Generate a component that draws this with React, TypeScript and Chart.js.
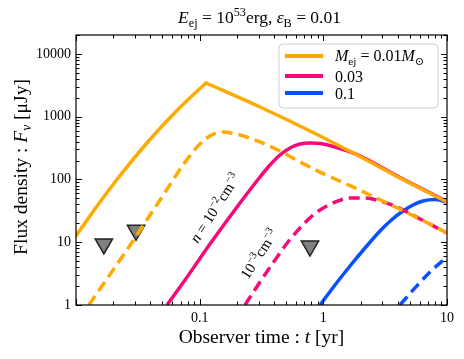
import React, { useEffect, useRef } from 'react';
import { Chart, registerables } from 'chart.js';

Chart.register(...registerables);

const SERIF = '"Liberation Serif", "Times New Roman", "DejaVu Serif", "DejaVu Sans", serif';

const ORANGE = '#FFAA00';
const PINK = '#F50A78';
const BLUE = '#0A50FF';

// Observer time t [yr] and flux density F [uJy]
// M_ej = 0.01 Msun, n = 1e-2 cm^-3
const orangeSolidT = [0.01, 0.01413, 0.01995, 0.02818, 0.03981, 0.05623, 0.07943, 0.1125, 0.3075, 0.7516, 1.872, 4.168, 10];
const orangeSolidF = [12.6, 33.3, 83.2, 196, 437, 920, 1828, 3441, 1427, 614, 245, 105.5, 43.7];
// M_ej = 0.01 Msun, n = 1e-3 cm^-3
const orangeDashT = [0.0127, 0.0227, 0.0311, 0.0478, 0.0867, 0.1146, 0.1516, 0.212, 0.3075, 0.4462, 0.6475, 0.9397, 1.737, 3.272, 6.047, 10];
const orangeDashF = [1, 5.21, 13.0, 47.1, 264, 458, 570, 511, 395, 284, 190, 131, 75.9, 42.2, 23.5, 14.0];
// M_ej = 0.03 Msun, n = 1e-2
const pinkSolidT = [0.0544, 0.0761, 0.1212, 0.212, 0.3075, 0.3704, 0.4462, 0.5375, 0.6475, 0.78, 0.9397, 1.243, 1.872, 4.168, 10];
const pinkSolidF = [1, 2.5, 9.37, 42.2, 109.4, 170, 245, 317, 367, 381, 374, 329, 248, 107, 44.3];
// M_ej = 0.03 Msun, n = 1e-3
const pinkDashT = [0.2326, 0.3075, 0.4066, 0.5178, 0.6475, 0.8096, 1.031, 1.314, 1.643, 2.173, 2.872, 3.941, 6.047, 10];
const pinkDashF = [1, 2.325, 5.21, 10.09, 16.85, 26.2, 36.4, 45.4, 50.7, 50.7, 45.4, 36.4, 23.5, 14.0];
// M_ej = 0.1 Msun, n = 1e-2
const blueSolidT = [0.9397, 1.243, 1.643, 2.173, 2.872, 3.592, 4.409, 5.309, 6.394, 7.996, 10];
const blueSolidF = [1, 2.083, 4.181, 8.09, 15.1, 23.0, 31.4, 39.2, 45.4, 47.9, 43.7];
// M_ej = 0.1 Msun, n = 1e-3
const blueDashT = [4.168, 5.51, 7.289, 10];
const blueDashF = [1, 1.87, 3.36, 5.82];
// upper limits
const limitT = [0.0168, 0.0306, 0.78];
const limitF = [9.4, 15.5, 8.7];

const xTickValues = [0.1, 1, 10];
const xTickLabels = ['0.1', '1', '10'];
const yTickValues = [1, 10, 100, 1000, 10000];
const yTickLabels = ['1', '10', '100', '1000', '10000'];

const legendLabels = ['0.01', '0.03', '0.1'];
const annotN2 = { t: 0.133, f: 35.1 };
const annotN3 = { t: 0.302, f: 6.5 };

type Seg = { t: string; it?: boolean; s?: 'sub' | 'sup' };

const fontOf = (s: Seg, size: number) =>
  `${s.it ? 'italic ' : ''}${s.s ? size * 0.7 : size}px ${SERIF}`;

function drawRich(ctx: CanvasRenderingContext2D, segs: Seg[], x: number, y: number, size: number, align: 'left' | 'center') {
  const widths = segs.map((s) => {
    ctx.font = fontOf(s, size);
    return ctx.measureText(s.t).width;
  });
  const total = widths.reduce((a, b) => a + b, 0);
  let cx = align === 'center' ? x - total / 2 : x;
  ctx.textBaseline = 'alphabetic';
  ctx.textAlign = 'left';
  segs.forEach((s, i) => {
    ctx.font = fontOf(s, size);
    const dy = s.s === 'sub' ? size * 0.22 : s.s === 'sup' ? -size * 0.4 : 0;
    ctx.fillText(s.t, cx, y + dy);
    cx += widths[i];
  });
}

const pts = (t: number[], f: number[]) => t.map((v, i) => ({ x: v, y: f[i] }));

const decor = {
  id: 'decor',
  afterDraw(chart: any) {
    const ctx: CanvasRenderingContext2D = chart.ctx;
    const { left, right, top, bottom } = chart.chartArea;
    const xs = chart.scales.x;
    const ys = chart.scales.y;
    ctx.save();
    ctx.fillStyle = '#000';
    ctx.strokeStyle = '#000';

    // frame
    ctx.lineWidth = 1.2;
    ctx.strokeRect(left, top, right - left, bottom - top);

    // inward ticks on all sides
    ctx.lineWidth = 1;
    const seg = (x1: number, y1: number, x2: number, y2: number) => {
      ctx.beginPath();
      ctx.moveTo(x1, y1);
      ctx.lineTo(x2, y2);
      ctx.stroke();
    };
    for (let d = -2; d <= 1; d++) {
      for (let k = 1; k <= 9; k++) {
        const v = k * Math.pow(10, d);
        if (v < xs.min * 0.9999 || v > xs.max * 1.0001) continue;
        const px = Math.round(xs.getPixelForValue(v)) + 0.5;
        const len = k === 1 ? 6 : 3.5;
        seg(px, bottom, px, bottom - len);
        seg(px, top, px, top + len);
      }
    }
    for (let d = 0; d <= 4; d++) {
      for (let k = 1; k <= 9; k++) {
        const v = k * Math.pow(10, d);
        if (v < ys.min * 0.9999 || v > ys.max * 1.0001) continue;
        const py = Math.round(ys.getPixelForValue(v)) + 0.5;
        const len = k === 1 ? 6 : 3.5;
        seg(left, py, left + len, py);
        seg(right, py, right - len, py);
      }
    }

    // title
    const cxMid = (left + right) / 2;
    drawRich(ctx, [
      { t: 'E', it: true }, { t: 'ej', s: 'sub' }, { t: ' = 10' }, { t: '53', s: 'sup' },
      { t: 'erg, ' }, { t: 'ε', it: true }, { t: 'B', s: 'sub' }, { t: ' = 0.01' },
    ], cxMid - 2, 23, 17.5, 'center');

    // axis titles
    drawRich(ctx, [{ t: 'Observer time : ' }, { t: 't', it: true }, { t: ' [yr]' }], cxMid, 343, 19.5, 'center');
    ctx.save();
    ctx.translate(27, (top + bottom) / 2 - 3);
    ctx.rotate(-Math.PI / 2);
    drawRich(ctx, [{ t: 'Flux density : ' }, { t: 'F', it: true }, { t: 'ν', s: 'sub', it: true }, { t: ' [μJy]' }], 0, 0, 19.5, 'center');
    ctx.restore();

    // density annotations
    const ang = (-57 * Math.PI) / 180;
    const annot = (a: { t: number; f: number }, segs: Seg[]) => {
      ctx.save();
      ctx.translate(xs.getPixelForValue(a.t), ys.getPixelForValue(a.f));
      ctx.rotate(ang);
      drawRich(ctx, segs, 0, 5, 15, 'center');
      ctx.restore();
    };
    annot(annotN2, [{ t: 'n', it: true }, { t: ' = 10' }, { t: '−2', s: 'sup' }, { t: 'cm' }, { t: '−3', s: 'sup' }]);
    annot(annotN3, [{ t: '10' }, { t: '−3', s: 'sup' }, { t: 'cm' }, { t: '−3', s: 'sup' }]);

    // legend
    const bx = 279, by = 44, bw = 159, bh = 64, r = 4;
    ctx.beginPath();
    ctx.moveTo(bx + r, by);
    ctx.arcTo(bx + bw, by, bx + bw, by + bh, r);
    ctx.arcTo(bx + bw, by + bh, bx, by + bh, r);
    ctx.arcTo(bx, by + bh, bx, by, r);
    ctx.arcTo(bx, by, bx + bw, by, r);
    ctx.closePath();
    ctx.fillStyle = 'rgba(255,255,255,0.85)';
    ctx.fill();
    ctx.strokeStyle = '#cccccc';
    ctx.lineWidth = 1;
    ctx.stroke();
    const rowsY = [56, 76, 93];
    const cols = [ORANGE, PINK, BLUE];
    rowsY.forEach((yy, i) => {
      ctx.strokeStyle = cols[i];
      ctx.lineWidth = 4;
      ctx.beginPath();
      ctx.moveTo(285, yy);
      ctx.lineTo(323, yy);
      ctx.stroke();
    });
    ctx.fillStyle = '#000';
    drawRich(ctx, [
      { t: 'M', it: true }, { t: 'ej', s: 'sub' }, { t: ' = ' + legendLabels[0] }, { t: 'M', it: true }, { t: '⊙', s: 'sub' },
    ], 335, 61, 16, 'left');
    drawRich(ctx, [{ t: legendLabels[1] }], 335, 82, 16, 'left');
    drawRich(ctx, [{ t: legendLabels[2] }], 335, 99, 16, 'left');

    ctx.restore();
  },
};

export default function App() {
  const ref = useRef<HTMLCanvasElement | null>(null);

  useEffect(() => {
    if (!ref.current) return;
    const peak = orangeSolidF.indexOf(Math.max(...orangeSolidF));
    const base = {
      showLine: true,
      pointRadius: 0,
      borderWidth: 3.5,
      fill: false,
      clip: 0,
      cubicInterpolationMode: 'monotone' as const,
      borderCapStyle: 'butt' as const,
    };
    const dash = [11, 6];
    const chart = new Chart(ref.current, {
      type: 'line',
      data: {
        datasets: [
          { ...base, data: pts(orangeSolidT.slice(0, peak + 1), orangeSolidF.slice(0, peak + 1)), borderColor: ORANGE, borderCapStyle: 'round' },
          { ...base, data: pts(orangeSolidT.slice(peak), orangeSolidF.slice(peak)), borderColor: ORANGE, borderCapStyle: 'round' },
          { ...base, data: pts(orangeDashT, orangeDashF), borderColor: ORANGE, borderDash: dash },
          { ...base, data: pts(pinkSolidT, pinkSolidF), borderColor: PINK },
          { ...base, data: pts(pinkDashT, pinkDashF), borderColor: PINK, borderDash: dash },
          { ...base, data: pts(blueSolidT, blueSolidF), borderColor: BLUE },
          { ...base, data: pts(blueDashT, blueDashF), borderColor: BLUE, borderDash: dash },
          {
            data: pts(limitT, limitF),
            showLine: false,
            pointStyle: 'triangle',
            pointRotation: 180,
            pointRadius: 10,
            pointBackgroundColor: '#808080',
            pointBorderColor: '#222222',
            pointBorderWidth: 1.5,
            clip: false,
          } as any,
        ],
      },
      options: {
        responsive: false,
        animation: false,
        events: [],
        layout: { padding: { left: 0, right: 17, top: 35, bottom: 0 } },
        plugins: { legend: { display: false }, tooltip: { enabled: false }, title: { display: false } },
        scales: {
          x: {
            type: 'logarithmic',
            min: 0.01,
            max: 10,
            grid: { display: false, drawTicks: false },
            border: { display: false },
            afterBuildTicks: (s: any) => {
              s.ticks = xTickValues.map((v) => ({ value: v }));
            },
            afterFit: (s: any) => {
              s.height = 54;
            },
            ticks: {
              autoSkip: false,
              maxRotation: 0,
              padding: 5,
              color: '#000',
              font: { family: SERIF, size: 14 },
              callback: (v: any) => {
                const i = xTickValues.indexOf(Number(v));
                return i >= 0 ? xTickLabels[i] : '';
              },
            },
          },
          y: {
            type: 'logarithmic',
            min: 1,
            max: 20000,
            grid: { display: false, drawTicks: false },
            border: { display: false },
            afterBuildTicks: (s: any) => {
              s.ticks = yTickValues.map((v) => ({ value: v }));
            },
            afterFit: (s: any) => {
              s.width = 76;
            },
            ticks: {
              autoSkip: false,
              padding: 5,
              color: '#000',
              font: { family: SERIF, size: 14 },
              callback: (v: any) => {
                const i = yTickValues.indexOf(Number(v));
                return i >= 0 ? yTickLabels[i] : '';
              },
            },
          },
        },
      } as any,
      plugins: [decor],
    });
    return () => chart.destroy();
  }, []);

  return (
    <div style={{ position: 'absolute', left: 0, top: 0, width: 464, height: 359, background: '#fff' }}>
      <canvas ref={ref} width={464} height={359} style={{ display: 'block', width: 464, height: 359 }} />
    </div>
  );
}
